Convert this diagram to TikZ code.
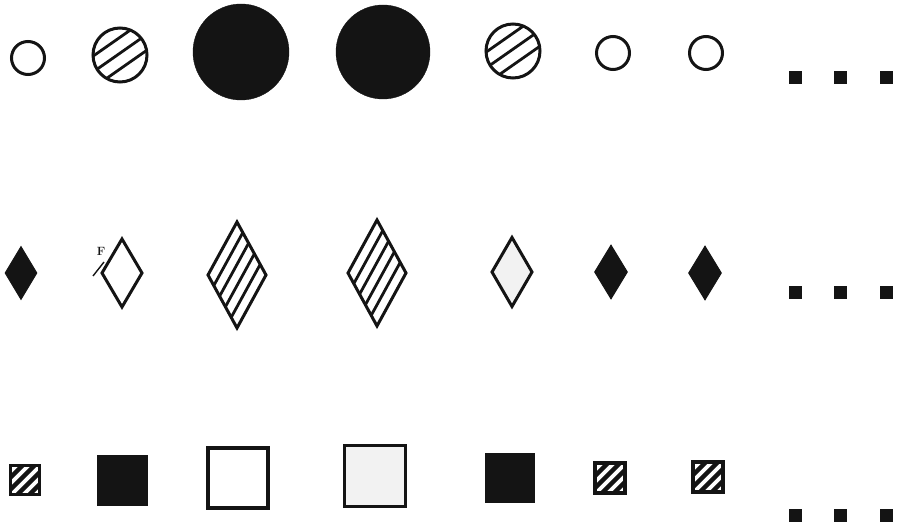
\documentclass[tikz,border=0pt]{standalone}
\usetikzlibrary{shapes.geometric,calc}
\definecolor{ink}{HTML}{141414}
\begin{document}
\begin{tikzpicture}[x=1pt,y=-1pt,
  shp/.style={draw=ink,line width=3pt,inner sep=0pt,outer sep=0pt},
  ring/.style={circle,shp,minimum size=#1},
  disc/.style={circle,draw=ink,fill=ink,inner sep=0pt,minimum size=#1},
  chatch/.style={circle,shp,minimum size=#1,
    path picture={\foreach \o in {-14.5,-1.5,11.5}{\draw[ink,line width=2.8pt]
      ($(path picture bounding box.center)+({\o*sin(35)-40*cos(35)},{\o*cos(35)+40*sin(35)})$) --
      ($(path picture bounding box.center)+({\o*sin(35)+40*cos(35)},{\o*cos(35)-40*sin(35)})$);}}},
  dfill/.style={diamond,draw=ink,fill=ink,line width=1pt,inner sep=0pt,minimum width=#1},
  dopen/.style={diamond,shp,minimum width=#1},
  dhatch/.style={diamond,shp,minimum width=#1,
    path picture={\foreach \k in {1,...,4}{\draw[ink,line width=2.8pt]
      ($(path picture bounding box.west)!\k/5!(path picture bounding box.south)$) --
      ($(path picture bounding box.north)!\k/5!(path picture bounding box.east)$);}}},
  sfill/.style={rectangle,draw=ink,fill=ink,line width=1pt,inner sep=0pt,minimum size=#1},
  sopen/.style={rectangle,draw=ink,line width=3.4pt,inner sep=0pt,minimum size=#1},
  shatch/.style={rectangle,draw=ink,line width=3.4pt,inner sep=0pt,minimum size=#1,
    path picture={\foreach \o in {-12,-3.5,5,13.5}{\draw[ink,line width=4.4pt]
      ($(path picture bounding box.center)+({\o*sin(45)-30*cos(45)},{\o*cos(45)+30*sin(45)})$) --
      ($(path picture bounding box.center)+({\o*sin(45)+30*cos(45)},{\o*cos(45)-30*sin(45)})$);}}},
  dot/.style={rectangle,fill=ink,inner sep=0pt,minimum size=13pt}
]
\useasboundingbox (0,0) rectangle (897,526);
% row 1: circles
\node[ring=33pt]   (c1) at (28,58) {};
\node[chatch=54pt] (c2) at (120,55) {};
\node[disc=96pt]   (c3) at (241,52) {};
\node[disc=94pt]   (c4) at (383,52) {};
\node[chatch=54pt] (c5) at (513,51) {};
\node[ring=33pt]   (c6) at (613,53) {};
\node[ring=33pt]   (c7) at (706,53) {};
\node[dot] (d11) at (795,78) {};
\node[dot] (d12) at (840,78) {};
\node[dot] (d13) at (886,78) {};
% row 2: diamonds
\node[dfill=32pt,minimum height=53pt]  (r1) at (21,273) {};
\node[dopen=40pt,minimum height=68pt]  (r2) at (122,273) {};
\node[dhatch=58pt,minimum height=106pt] (r3) at (237,275) {};
\node[dhatch=58pt,minimum height=106pt] (r4) at (377,273) {};
\node[dopen=40pt,minimum height=69pt,fill=black!5] (r5) at (512,272) {};
\node[dfill=33pt,minimum height=54pt]  (r6) at (611,272) {};
\node[dfill=33pt,minimum height=54pt]  (r7) at (705,273) {};
\node[dot] (d21) at (795,293) {};
\node[dot] (d22) at (840,293) {};
\node[dot] (d23) at (886,293) {};
% small mark beside the second diamond
\node[font=\fontsize{12}{12}\selectfont\bfseries,text=ink,inner sep=0pt] (mk) at (101,251) {F};
\coordinate (mkA) at (93,276);
\coordinate (mkB) at (104,262);
\draw[ink,line width=1.4pt] (mkA) -- (mkB);
% row 3: squares
\node[shatch=29pt] (s1) at (25,480) {};
\node[sfill=50pt]  (s2) at (122,480) {};
\node[sopen=60pt]  (s3) at (238,478) {};
\node[sopen=61pt,fill=black!5] (s4) at (375,476) {};
\node[sfill=49pt]  (s5) at (510,478) {};
\node[shatch=30pt] (s6) at (610,478) {};
\node[shatch=30pt] (s7) at (708,477) {};
\node[dot] (d31) at (795,515) {};
\node[dot] (d32) at (840,515) {};
\node[dot] (d33) at (886,515) {};
\end{tikzpicture}
\end{document}
